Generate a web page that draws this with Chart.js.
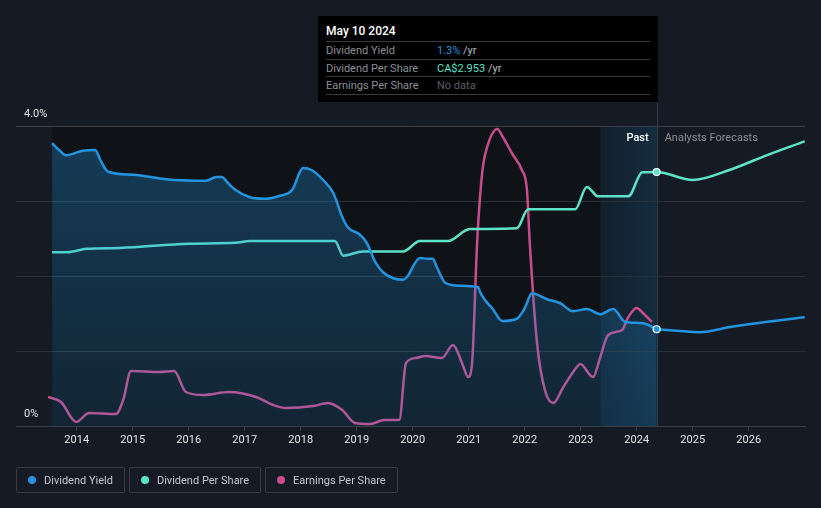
<!DOCTYPE html>
<html>
<head>
<meta charset="utf-8">
<script src="https://cdn.jsdelivr.net/npm/chart.js@4.4.1/dist/chart.umd.min.js"></script>
<style>
  html, body { margin: 0; padding: 0; background: #151b24; }
  #wrap { position: relative; width: 821px; height: 508px; font-family: Roboto, "Noto Sans", sans-serif; overflow: hidden; }
  #chart { position: absolute; left: 0; top: 0; }
  .tip { position: absolute; left: 318px; top: 16px; width: 340px; height: 86px; background: #000; box-sizing: border-box; padding: 0 8px; }
  .tip .title { color: #fff; font-size: 12px; font-weight: 500; height: 26px; line-height: 12px; padding-top: 9px; box-sizing: border-box; border-bottom: 1px solid #3a3a3a; }
  .tip .row { display: flex; height: 17.5px; line-height: 17px; font-size: 11px; border-bottom: 1px solid #3a3a3a; box-sizing: border-box; }
  .tip .lbl { width: 111px; color: #8c9096; }
  .tip .unit { color: #b9bcc0; }
  .legend { position: absolute; left: 16px; top: 467px; display: flex; gap: 4px; }
  .legend .item { display: flex; align-items: center; height: 26px; box-sizing: border-box; border: 1px solid #363b44; border-radius: 2px; padding: 0 11px 0 11px; color: #c3c7cd; font-size: 11px; }
  .legend .dot { width: 8px; height: 8px; border-radius: 50%; margin-right: 8px; }
</style>
</head>
<body>
<div id="wrap">
  <canvas id="chart" width="821" height="508"></canvas>
  <div class="tip">
    <div class="title">May 10 2024</div>
    <div class="row"><span class="lbl">Dividend Yield</span><span style="color:#2394df">1.3%</span><span class="unit">&nbsp;/yr</span></div>
    <div class="row"><span class="lbl">Dividend Per Share</span><span style="color:#5de3c8">CA$2.953</span><span class="unit">&nbsp;/yr</span></div>
    <div class="row"><span class="lbl">Earnings Per Share</span><span style="color:#5b5f66">No data</span></div>
  </div>
  <div class="legend">
    <div class="item"><span class="dot" style="background:#2394df"></span>Dividend Yield</div>
    <div class="item"><span class="dot" style="background:#5de3c8"></span>Dividend Per Share</div>
    <div class="item"><span class="dot" style="background:#c94c8c"></span>Earnings Per Share</div>
  </div>
</div>
<script>
// Dividend yield (%), past
const yieldYears = [2013.56, 2013.70, 2013.81, 2014.11, 2014.33, 2014.42, 2014.56, 2015.01, 2015.59, 2016.31,
  2016.49, 2016.59, 2016.70, 2016.83, 2017.09, 2017.36, 2017.63, 2017.85, 2018.04, 2018.20,
  2018.40, 2018.58, 2018.74, 2018.84, 2019.06, 2019.18, 2019.33, 2019.47, 2019.65, 2019.83,
  2019.90, 2020.13, 2020.26, 2020.36, 2020.43, 2020.58, 2020.84, 2021.17, 2021.20, 2021.29,
  2021.42, 2021.60, 2021.86, 2022.00, 2022.13, 2022.40, 2022.63, 2022.86, 2023.11, 2023.35,
  2023.58, 2023.79, 2024.11, 2024.356];
const yieldValues = [3.77, 3.67, 3.61, 3.67, 3.68, 3.55, 3.39, 3.35, 3.29, 3.27,
  3.32, 3.32, 3.24, 3.15, 3.05, 3.03, 3.07, 3.15, 3.44, 3.41,
  3.28, 3.11, 2.79, 2.65, 2.55, 2.44, 2.19, 2.05, 1.97, 1.95,
  1.99, 2.24, 2.23, 2.23, 2.12, 1.91, 1.87, 1.85, 1.79, 1.68,
  1.57, 1.40, 1.43, 1.57, 1.77, 1.69, 1.64, 1.53, 1.56, 1.49,
  1.56, 1.39, 1.37, 1.29];
// Dividend yield (%), analysts forecast
const yieldFcYears = [2024.356, 2024.72, 2025.13, 2025.67, 2026.33, 2027.00];
const yieldFcValues = [1.29, 1.27, 1.25, 1.32, 1.39, 1.45];
// Dividend per share (CA$)
const dpsYears = [2013.56, 2013.83, 2014.18, 2014.77, 2016.00, 2016.83, 2017.09, 2018.61, 2018.76, 2019.11,
  2019.83, 2020.13, 2020.63, 2021.02, 2021.86, 2022.06, 2022.90, 2023.11, 2023.31, 2023.85,
  2024.10, 2024.356, 2025.00, 2025.67, 2026.33, 2027.00];
const dpsValues = [2.02, 2.02, 2.06, 2.07, 2.12, 2.13, 2.15, 2.15, 1.98, 2.03,
  2.03, 2.15, 2.15, 2.29, 2.30, 2.52, 2.52, 2.78, 2.67, 2.67,
  2.95, 2.953, 2.86, 2.98, 3.15, 3.31];
// Earnings per share (CA$)
const epsYears = [2013.49, 2013.72, 2013.99, 2014.22, 2014.70, 2014.83, 2014.97, 2015.47, 2015.74, 2015.95,
  2016.26, 2016.72, 2017.20, 2017.51, 2017.74, 2018.22, 2018.49, 2018.74, 2018.97, 2019.24,
  2019.49, 2019.76, 2019.88, 2020.06, 2020.22, 2020.52, 2020.72, 2020.88, 2020.99, 2021.06,
  2021.15, 2021.24, 2021.33, 2021.51, 2021.61, 2021.79, 2021.95, 2022.04, 2022.09, 2022.22,
  2022.36, 2022.51, 2022.69, 2022.93, 2022.99, 2023.22, 2023.35, 2023.49, 2023.74, 2023.84,
  2024.00, 2024.11, 2024.27];
const epsValues = [1.16, 0.96, 0.16, 0.52, 0.48, 1.04, 2.20, 2.16, 2.20, 1.36,
  1.24, 1.36, 1.16, 0.84, 0.72, 0.80, 0.92, 0.64, 0.12, 0.08,
  0.24, 0.24, 2.52, 2.72, 2.80, 2.72, 3.24, 2.52, 1.96, 2.52,
  7.32, 10.12, 11.16, 11.88, 11.56, 10.84, 10.24, 9.44, 7.32, 3.32,
  1.44, 0.92, 1.56, 2.36, 2.48, 1.96, 2.76, 3.64, 3.84, 4.32,
  4.72, 4.52, 4.16];

const xTickYears = [2014, 2015, 2016, 2017, 2018, 2019, 2020, 2021, 2022, 2023, 2024, 2025, 2026];
const yTickValues = [0, 1, 2, 3, 4];
const yTickLabels = ['0%', '', '', '', '4.0%'];

const nowYear = 2024.356;   // May 10 2024
const pastStart = 2013.56;
const xMin = 2012.916, xMax = 2027.005;

const BLUE = '#2394df', TEAL = '#5de3c8', PINK = '#c94c8c';

const pts = (xs, ys) => xs.map((x, i) => ({ x: x, y: ys[i] }));

const bands = {
  id: 'bands',
  beforeDraw(chart) {
    const { ctx, chartArea: a, scales: { x } } = chart;
    const x0 = x.getPixelForValue(pastStart);
    const x1 = x.getPixelForValue(nowYear - 1);
    const x2 = x.getPixelForValue(nowYear);
    ctx.save();
    ctx.fillStyle = '#0f1318';
    ctx.fillRect(x0, a.top, x1 - x0, a.bottom - a.top);
    ctx.fillStyle = '#111a24';
    ctx.fillRect(x1, a.top, x2 - x1, a.bottom - a.top);
    const g = ctx.createLinearGradient(x1, 0, x2, 0);
    g.addColorStop(0, 'rgba(35,148,223,0.04)');
    g.addColorStop(1, 'rgba(35,148,223,0.15)');
    ctx.fillStyle = g;
    ctx.fillRect(x1, a.top, x2 - x1, a.bottom - a.top);
    ctx.strokeStyle = '#2b3d4f';
    ctx.lineWidth = 1;
    ctx.beginPath();
    ctx.moveTo(Math.round(x2) + 0.5, 101);
    ctx.lineTo(Math.round(x2) + 0.5, a.bottom);
    ctx.stroke();
    ctx.restore();
  },
  afterDraw(chart) {
    const { ctx, scales: { x } } = chart;
    const x2 = x.getPixelForValue(nowYear);
    ctx.save();
    ctx.font = '500 11px Roboto, "Noto Sans", sans-serif';
    ctx.textBaseline = 'middle';
    ctx.textAlign = 'right';
    ctx.fillStyle = '#ffffff';
    ctx.fillText('Past', x2 - 8, 138);
    ctx.textAlign = 'left';
    ctx.fillStyle = '#8a8f97';
    ctx.font = '11px Roboto, "Noto Sans", sans-serif';
    ctx.fillText('Analysts Forecasts', x2 + 8, 138);
    ctx.restore();
  }
};

const markAt = (xs) => (c) => (xs[c.dataIndex] === nowYear ? 3.5 : 0);

new Chart(document.getElementById('chart'), {
  type: 'line',
  data: {
    datasets: [
      {
        label: 'Dividend Yield',
        data: pts(yieldYears, yieldValues),
        yAxisID: 'y',
        borderColor: BLUE,
        borderWidth: 2.5,
        cubicInterpolationMode: 'monotone',
        fill: 'origin',
        backgroundColor: (c) => {
          const a = c.chart.chartArea;
          if (!a) return 'rgba(35,148,223,0.2)';
          const g = c.chart.ctx.createLinearGradient(0, a.top, 0, a.bottom);
          g.addColorStop(0, 'rgba(35,148,223,0.32)');
          g.addColorStop(1, 'rgba(35,148,223,0.14)');
          return g;
        },
        pointRadius: markAt(yieldYears),
        pointBackgroundColor: BLUE,
        pointBorderColor: '#ffffff',
        pointBorderWidth: 1.2
      },
      {
        label: 'Dividend Yield forecast',
        data: pts(yieldFcYears, yieldFcValues),
        yAxisID: 'y',
        borderColor: BLUE,
        borderWidth: 2.5,
        cubicInterpolationMode: 'monotone',
        fill: false,
        pointRadius: 0
      },
      {
        label: 'Dividend Per Share',
        data: pts(dpsYears, dpsValues),
        yAxisID: 'yDps',
        borderColor: TEAL,
        borderWidth: 2.5,
        cubicInterpolationMode: 'monotone',
        fill: false,
        pointRadius: markAt(dpsYears),
        pointBackgroundColor: TEAL,
        pointBorderColor: '#ffffff',
        pointBorderWidth: 1.2
      },
      {
        label: 'Earnings Per Share',
        data: pts(epsYears, epsValues),
        yAxisID: 'yEps',
        borderColor: PINK,
        borderWidth: 2.5,
        cubicInterpolationMode: 'monotone',
        fill: false,
        pointRadius: 0
      }
    ]
  },
  options: {
    responsive: false,
    animation: false,
    devicePixelRatio: 1,
    layout: { padding: { left: 16, right: 16, top: 126, bottom: 0 } },
    plugins: { legend: { display: false }, tooltip: { enabled: false } },
    scales: {
      x: {
        type: 'linear',
        min: xMin,
        max: xMax,
        afterBuildTicks: (s) => { s.ticks = xTickYears.map(v => ({ value: v })); },
        afterFit: (s) => { s.height = 82; },
        grid: { display: true, drawOnChartArea: false, drawTicks: true, tickLength: 5, color: '#3b4048' },
        border: { display: true, color: '#3b4048' },
        ticks: {
          color: '#e2e4e7',
          font: { family: 'Roboto', size: 11 },
          padding: 3,
          maxRotation: 0,
          callback: (v) => String(v)
        }
      },
      y: {
        position: 'left',
        min: 0,
        max: 4,
        afterBuildTicks: (s) => { s.ticks = yTickValues.map(v => ({ value: v })); },
        afterFit: (s) => { s.width = 0; },
        grid: { drawTicks: false, color: (c) => (c.tick && c.tick.value === 4 ? '#3b4048' : '#2a2f37') },
        border: { display: false },
        ticks: {
          mirror: true,
          padding: 8,
          labelOffset: -12,
          color: '#e2e4e7',
          font: { family: 'Roboto', size: 11 },
          callback: (v) => yTickLabels[yTickValues.indexOf(v)]
        }
      },
      yDps: { display: false, min: 0, max: 3.488 },
      yEps: { display: false, min: 0, max: 12 }
    }
  },
  plugins: [bands]
});
</script>
</body>
</html>
